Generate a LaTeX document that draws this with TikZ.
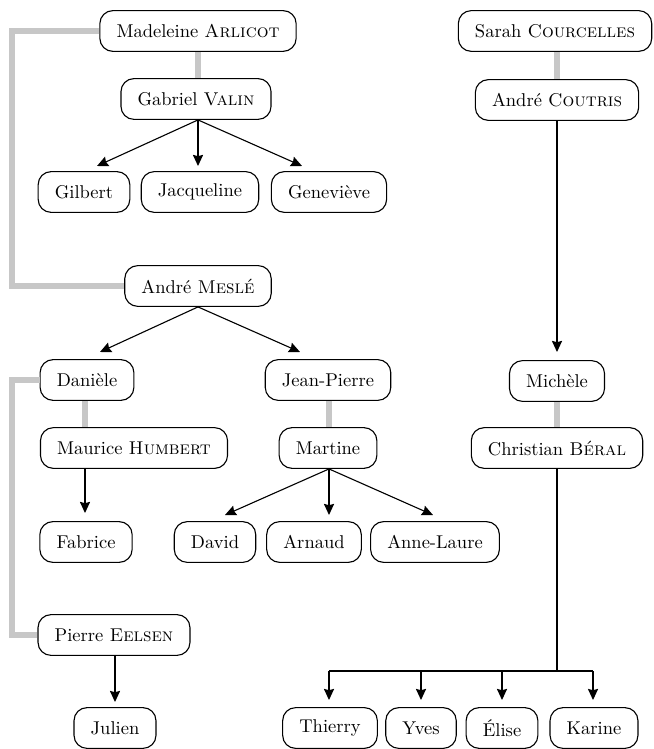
\documentclass[tikz,border=0pt]{standalone}
\usepackage{fontspec}
\usetikzlibrary{arrows.meta}
\begin{document}
\begin{tikzpicture}[x=0.54pt,y=-0.54pt,
    person/.style={draw,rounded corners=7pt,fill=white,line width=0.6pt,
        minimum height=22pt,inner xsep=9pt,inner ysep=0pt},
    spouse/.style={line width=3.5pt,black!22},
    child/.style={line width=0.6pt,-{Stealth[length=6pt,width=5.5pt,inset=0.7pt]}}]
        \useasboundingbox (0,0) rectangle (653,749);
        % people
        \node[person] (arlicot) at (198,31) {Madeleine \textsc{Arlicot}};
        \node[person] (courcelles) at (555,31) {Sarah \textsc{Courcelles}};
        \node[person] (valin) at (196,99) {Gabriel \textsc{Valin}};
        \node[person] (coutris) at (557,100) {André \textsc{Coutris}};
        \node[person] (gilbert) at (84,192) {Gilbert};
        \node[person] (jacqueline) at (200,192) {Jacqueline};
        \node[person] (genevieve) at (329,192) {Geneviève};
        \node[person] (mesle) at (198,286) {André \textsc{Meslé}};
        \node[person] (daniele) at (87,380) {Danièle};
        \node[person] (jeanpierre) at (328,380) {Jean-Pierre};
        \node[person] (michele) at (557,381) {Michèle};
        \node[person] (humbert) at (134,448) {Maurice \textsc{Humbert}};
        \node[person] (martine) at (328,448) {Martine};
        \node[person] (beral) at (557,448) {Christian \textsc{Béral}};
        \node[person] (fabrice) at (86,542) {Fabrice};
        \node[person] (david) at (215,542) {David};
        \node[person] (arnaud) at (314,542) {Arnaud};
        \node[person] (annelaure) at (435,542) {Anne-Laure};
        \node[person] (eelsen) at (114,635) {Pierre \textsc{Eelsen}};
        \node[person] (julien) at (115,728) {Julien};
        \node[person] (thierry) at (330,728) {Thierry};
        \node[person] (yves) at (421,728) {Yves};
        \node[person] (elise) at (502,728) {Élise};
        \node[person] (karine) at (594,728) {Karine};
        % arrow ends
        \coordinate (L) at (12,0);
        \coordinate (V1) at (97,166);
        \coordinate (V2) at (198,166);
        \coordinate (V3) at (302,166);
        \coordinate (M1) at (100,352);
        \coordinate (M2) at (300,352);
        \coordinate (T1) at (225,515);
        \coordinate (T2) at (329,515);
        \coordinate (T3) at (433,515);
        \coordinate (F) at (85,513);
        \coordinate (J) at (115,702);
        \coordinate (C) at (557,352);
        \coordinate (B) at (557,671);
        \coordinate (K1) at (329,700);
        \coordinate (K2) at (421,700);
        \coordinate (K3) at (502,700);
        \coordinate (K4) at (593,700);
        % couples
        \draw[spouse] (arlicot.south) -- (arlicot.south |- valin.north);
        \draw[spouse] (courcelles.south -| coutris) -- (coutris.north);
        \draw[spouse] (daniele.south -| F) -- (humbert.north -| F);
        \draw[spouse] (jeanpierre.south -| T2) -- (martine.north -| T2);
        \draw[spouse] (michele.south) -- (beral.north);
        \draw[spouse] (arlicot.west) -- (arlicot.west -| L) |- (mesle.west);
        \draw[spouse] (daniele.west) -- (daniele.west -| L) |- (eelsen.west);
        % children
        \foreach \n in {V1,V2,V3}
            \draw[child] (valin.south -| V2) -- (\n);
        \foreach \n in {M1,M2}
            \draw[child] (mesle.south) -- (\n);
        \foreach \n in {T1,T2,T3}
            \draw[child] (martine.south -| T2) -- (\n);
        \draw[child] (humbert.south -| F) -- (F);
        \draw[child] (eelsen.south -| J) -- (J);
        \draw[child] (coutris.south) -- (C);
        \draw[line width=0.6pt] (beral.south) -- (B) -- (K1 |- B);
        \draw[line width=0.6pt] (B) -- (K4 |- B);
        \foreach \n in {K1,K2,K3,K4}
            \draw[child] (\n |- B) -- (\n);
\end{tikzpicture}
\end{document}
